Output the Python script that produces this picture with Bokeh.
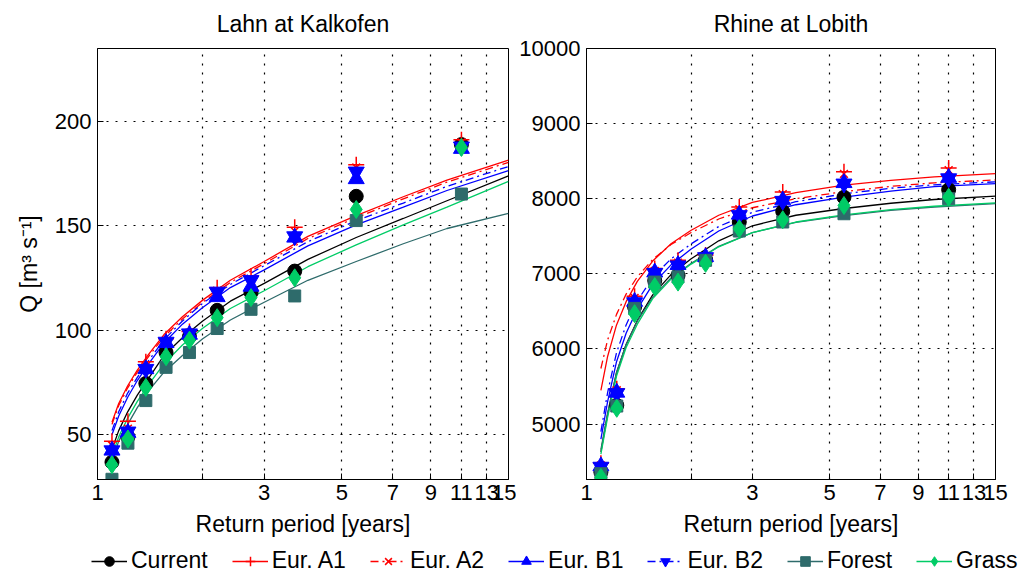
from bokeh.plotting import figure
from bokeh.models import (Range1d, FixedTicker, NumeralTickFormatter, Legend,
                          LegendItem, ColumnDataSource)
from bokeh.layouts import column, row
from bokeh.embed import file_html
from bokeh.resources import INLINE

FONT = "Liberation Sans"

# Return periods (years) of the ranked annual maxima
return_period = [1.1, 1.222, 1.375, 1.571, 1.833, 2.2, 2.75, 3.667, 5.5, 11.0]
# Return periods at which the fitted frequency curves are drawn
fit_period = [1.1, 1.15, 1.22, 1.3, 1.4, 1.55, 1.75, 2.0, 2.4, 3.0, 4.0, 5.5, 7.5, 10.0, 15.0]

scenarios = ["Current", "Eur. A1", "Eur. A2", "Eur. B1", "Eur. B2", "Forest", "Grass"]

# --- Lahn at Kalkofen: annual maxima (m3/s) ---
lahn_current = [36.9, 49.0, 74.6, 89.4, 97.0, 109.6, 118.1, 128.4, 164.2, 189.0]
lahn_a1 = [46.9, 56.5, 85.0, 96.0, 99.5, 120.4, 126.0, 149.4, 179.3, 191.3]
lahn_a2 = [45.0, 53.0, 83.0, 95.0, 99.0, 119.0, 124.0, 147.5, 178.0, 190.0]
lahn_b1 = [42.5, 51.0, 81.5, 94.0, 98.0, 116.0, 121.0, 144.5, 172.5, 187.0]
lahn_b2 = [42.5, 51.5, 81.5, 94.5, 98.5, 118.5, 124.0, 145.0, 176.0, 188.0]
lahn_forest = [28.7, 46.0, 66.4, 82.3, 89.4, 100.9, 110.1, 116.5, 152.6, 165.3]
lahn_grass = [35.7, 48.0, 72.7, 87.4, 95.3, 106.1, 115.7, 125.2, 157.9, 187.6]

# --- Lahn at Kalkofen: fitted curves ---
lahn_fit_current = [43, 52, 61, 69, 77, 88, 96.5, 104.5, 114, 122.5, 134, 144.5, 153.6, 162.1, 174]
lahn_fit_a1 = [56, 65, 73.5, 81, 88.5, 98, 106.5, 114.5, 124, 133, 145, 155, 164, 172, 181.5]
lahn_fit_a2 = [55, 64, 72.5, 80, 87.5, 97, 105.5, 113.5, 123, 132, 144, 154, 163, 171, 180.5]
lahn_fit_b1 = [50, 59, 68, 76, 84, 94, 103, 111, 120.5, 129, 140.5, 150.5, 159, 167, 176.5]
lahn_fit_b2 = [52, 61, 70, 77.5, 85.5, 95.5, 104.5, 113, 122, 131, 142.5, 152.5, 161, 169, 178.5]
lahn_fit_forest = [37, 47, 55, 63, 71, 80, 88, 96, 105, 113.5, 124, 133, 141.5, 148.8, 156]
lahn_fit_grass = [40, 49, 58, 66, 74, 84, 93, 101, 110.5, 119, 130.5, 141, 150.5, 159, 171.4]

# --- Rhine at Lobith: annual maxima (m3/s) ---
rhine_current = [4360, 5250, 6560, 6910, 6980, 7190, 7690, 7830, 8020, 8120]
rhine_a1 = [4480, 5470, 6700, 7070, 7180, 7250, 7890, 8090, 8360, 8410]
rhine_a2 = [4450, 5450, 6680, 7040, 7150, 7230, 7860, 8060, 8330, 8380]
rhine_b1 = [4440, 5420, 6630, 7020, 7120, 7225, 7790, 7980, 8210, 8280]
rhine_b2 = [4430, 5410, 6620, 7010, 7110, 7220, 7780, 7970, 8200, 8270]
rhine_forest = [4340, 5240, 6540, 6890, 6960, 7180, 7570, 7690, 7800, 8000]
rhine_grass = [4290, 5210, 6470, 6830, 6890, 7140, 7600, 7720, 7910, 8020]

# --- Rhine at Lobith: fitted curves ---
rhine_fit_current = [4630, 5130, 5680, 6060, 6380, 6720, 6990, 7200, 7440, 7640, 7780, 7870, 7940, 7990, 8035]
rhine_fit_a1 = [5450, 5900, 6320, 6630, 6900, 7170, 7400, 7580, 7780, 7950, 8080, 8180, 8245, 8292, 8335]
rhine_fit_a2 = [5740, 6120, 6460, 6730, 6960, 7190, 7390, 7550, 7730, 7880, 8000, 8095, 8165, 8212, 8250]
rhine_fit_b1 = [4800, 5300, 5830, 6210, 6530, 6860, 7120, 7330, 7570, 7770, 7920, 8020, 8100, 8160, 8202]
rhine_fit_b2 = [4900, 5420, 5950, 6320, 6640, 6950, 7200, 7400, 7630, 7820, 7960, 8065, 8140, 8185, 8225]
rhine_fit_forest = [4660, 5150, 5690, 6060, 6370, 6690, 6945, 7140, 7365, 7550, 7685, 7775, 7845, 7890, 7935]
rhine_fit_grass = [4600, 5090, 5640, 6020, 6330, 6670, 6930, 7130, 7360, 7550, 7690, 7785, 7855, 7900, 7944]

x_ticks = [1, 2, 3, 5, 7, 9, 11, 13, 15]

# Per-scenario styling
color = {"Current": "#000000", "Eur. A1": "#FF0000", "Eur. A2": "#FF0000",
         "Eur. B1": "#0000FF", "Eur. B2": "#0000FF", "Forest": "#2E6B6B", "Grass": "#00CC66"}
marker = {"Current": "circle", "Eur. A1": "cross", "Eur. A2": "x", "Eur. B1": "triangle",
          "Eur. B2": "inverted_triangle", "Forest": "square", "Grass": "diamond"}
msize = {"Current": 14, "Eur. A1": 16, "Eur. A2": 11, "Eur. B1": 16,
         "Eur. B2": 16, "Forest": 12, "Grass": 18}
dash = {"Current": "solid", "Eur. A1": "solid", "Eur. A2": "8 4 2 4", "Eur. B1": "solid",
        "Eur. B2": "8 4 2 4", "Forest": "solid", "Grass": "solid"}
hollow = {"Eur. A1", "Eur. A2"}


def panel(title, points, fits, y0, y1, y_ticks, ylabel, width, left, right):
    p = figure(width=width, height=546, x_axis_type="log",
               x_range=Range1d(1, 15), y_range=Range1d(y0, y1),
               output_backend="svg", toolbar_location=None,
               min_border_left=left, min_border_right=right,
               min_border_top=47, min_border_bottom=67, title=title)
    for name in scenarios:
        p.line(fit_period, fits[name], line_color=color[name], line_width=1.3,
               line_dash=dash[name])
    for name in scenarios:
        if name in hollow:
            p.scatter(return_period, points[name], marker=marker[name], size=msize[name],
                      line_color=color[name], line_width=1.5, fill_color=None)
        else:
            p.scatter(return_period, points[name], marker=marker[name], size=msize[name],
                      line_color=color[name], fill_color=color[name])

    p.title.align = "center"
    p.title.vertical_align = "top"
    p.title.text_font = FONT
    p.title.text_font_size = "23px"
    p.title.text_font_style = "normal"
    p.title.text_color = "black"
    p.title.standoff = 20

    p.xaxis.ticker = FixedTicker(ticks=x_ticks)
    p.xaxis.formatter = NumeralTickFormatter(format="0")
    p.xaxis.major_label_overrides = {2: ""}
    p.yaxis.ticker = FixedTicker(ticks=y_ticks)
    p.xaxis.axis_label = "Return period [years]"
    if ylabel:
        p.yaxis.axis_label = ylabel
    for ax in (p.xaxis, p.yaxis):
        ax.major_label_text_font = FONT
        ax.major_label_text_font_size = "22px"
        ax.major_label_text_color = "black"
        ax.axis_label_text_font = FONT
        ax.axis_label_text_font_size = "23px"
        ax.axis_label_text_font_style = "normal"
        ax.axis_label_text_color = "black"
        ax.axis_line_color = "black"
        ax.major_tick_line_color = "black"
        ax.major_tick_in = 6
        ax.major_tick_out = 0
        ax.minor_tick_line_color = None
    p.xaxis.major_label_standoff = 5
    p.xaxis.axis_label_standoff = 8
    p.yaxis.major_label_standoff = 6
    p.yaxis.axis_label_standoff = 10

    for g in (p.xgrid, p.ygrid):
        g.grid_line_color = "black"
        g.grid_line_dash = "2 7"
        g.grid_line_width = 1.2
    p.outline_line_color = "black"
    p.outline_line_width = 1
    p.background_fill_color = "white"
    p.border_fill_color = "white"
    return p


lahn_points = dict(zip(scenarios, [lahn_current, lahn_a1, lahn_a2, lahn_b1, lahn_b2,
                                   lahn_forest, lahn_grass]))
lahn_fits = dict(zip(scenarios, [lahn_fit_current, lahn_fit_a1, lahn_fit_a2, lahn_fit_b1,
                                 lahn_fit_b2, lahn_fit_forest, lahn_fit_grass]))
rhine_points = dict(zip(scenarios, [rhine_current, rhine_a1, rhine_a2, rhine_b1, rhine_b2,
                                    rhine_forest, rhine_grass]))
rhine_fits = dict(zip(scenarios, [rhine_fit_current, rhine_fit_a1, rhine_fit_a2, rhine_fit_b1,
                                  rhine_fit_b2, rhine_fit_forest, rhine_fit_grass]))

p1 = panel("Lahn at Kalkofen", lahn_points, lahn_fits, 28.6, 235, [50, 100, 150, 200],
           "Q [m³ s⁻¹]", 516, 97, 8)
p2 = panel("Rhine at Lobith", rhine_points, rhine_fits, 4262, 10000,
           [5000, 6000, 7000, 8000, 9000, 10000], None, 510, 67, 31)

# Shared legend strip below both panels; its swatch renderers sit outside the visible range
leg = figure(width=1026, height=28, output_backend="svg", toolbar_location=None,
             x_axis_location=None, y_axis_location=None, min_border=0,
             x_range=Range1d(0, 1), y_range=Range1d(0, 1))
leg.grid.visible = False
leg.outline_line_color = None
leg.background_fill_color = "white"
leg.border_fill_color = "white"
swatch = ColumnDataSource(data=dict(x=[-5.0, -4.0], y=[-5.0, -4.0]))
items = []
for name in scenarios:
    rl = leg.line("x", "y", source=swatch, line_color=color[name], line_width=1.3,
                  line_dash=dash[name])
    if name in hollow:
        rs = leg.scatter("x", "y", source=swatch, marker=marker[name],
                         line_color=color[name], line_width=1.5, fill_color=None)
    else:
        rs = leg.scatter("x", "y", source=swatch, marker=marker[name],
                         line_color=color[name], fill_color=color[name])
    items.append(LegendItem(label=name, renderers=[rl, rs]))
legend = Legend(items=items, orientation="horizontal", location=(91, 0),
                glyph_width=36, glyph_height=24, label_height=24, label_standoff=4,
                spacing=24, padding=0, margin=0, border_line_color=None,
                background_fill_alpha=0, label_text_font=FONT,
                label_text_font_size="23px", label_text_color="black")
leg.add_layout(legend)

layout = column(row(p1, p2), leg)
open("out.html", "w").write(file_html(layout, INLINE))
